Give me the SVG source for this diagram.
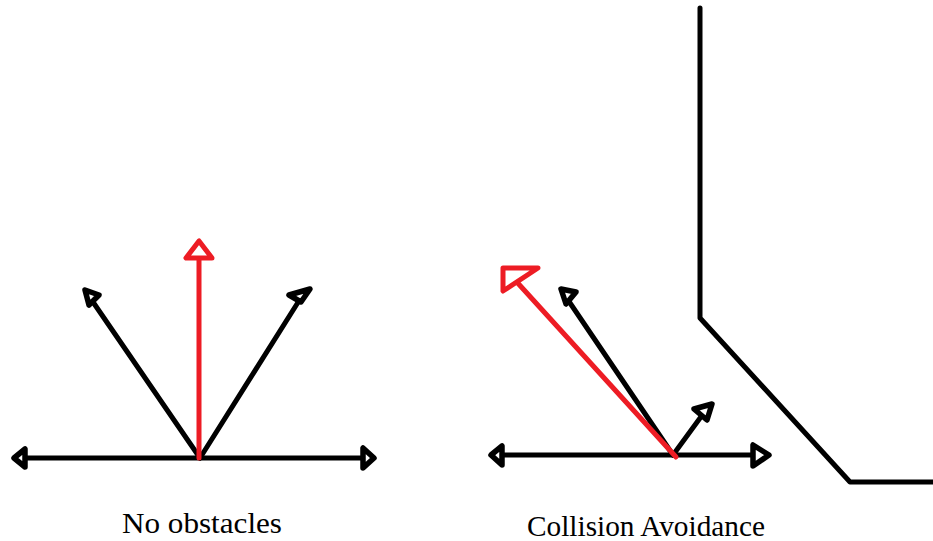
<svg xmlns="http://www.w3.org/2000/svg" width="933" height="541" viewBox="0 0 933 541">
<style>
.k{stroke:#000;stroke-width:5;fill:none;stroke-linecap:round;stroke-linejoin:round}
.r{stroke:#ed1c24;stroke-width:5;fill:none;stroke-linecap:round;stroke-linejoin:round}
.hk{stroke:#000;stroke-width:5.5;fill:#fff;stroke-linejoin:round}
.hr{stroke:#ed1c24;stroke-width:5;fill:#fff;stroke-linejoin:round}
.lbl{font-family:"Liberation Serif","Times New Roman",serif;font-size:30px;fill:#000;text-anchor:middle}
</style>
<rect width="933" height="541" fill="#fff"/>
<g id="connectors">
  <g id="left-diagram">
    <line class="k" x1="22" y1="458" x2="366" y2="458"/>
    <polygon class="hk" points="14,458 25,449 25,467"/>
    <polygon class="hk" points="374,458 363,448 363,468"/>
    <line class="k" x1="200" y1="458" x2="93" y2="302"/>
    <polygon class="hk" points="85,290 99,295 89,305"/>
    <line class="k" x1="200" y1="458" x2="302" y2="296"/>
    <polygon class="hk" points="310,289 301,302 289,295"/>
    <line class="r" x1="199" y1="458" x2="199" y2="258"/>
    <polygon class="hr" points="199,241 186,258 212,258"/>
  </g>
  <g id="right-diagram">
    <line class="k" x1="496" y1="455" x2="762" y2="455"/>
    <polygon class="hk" points="491,455 502,446 502,465"/>
    <polygon class="hk" points="769,455 753,445 753,466"/>
    <line class="k" x1="673" y1="455" x2="568" y2="300"/>
    <polygon class="hk" points="561,289 576,292 566,304"/>
    <line class="k" x1="673" y1="455" x2="703" y2="414"/>
    <polygon class="hk" points="712,404 694,409 707,420"/>
    <line class="r" x1="676" y1="457" x2="515" y2="280"/>
    <polygon class="hr" points="503,268 538,268 503,291"/>
  </g>
</g>
<g id="wall">
  <polyline class="k" stroke-linecap="butt" points="700,8 700,318 850,482 933,482"/>
</g>
<g id="label-no-obstacles"><text class="lbl" x="202" y="533" textLength="160" lengthAdjust="spacingAndGlyphs">No obstacles</text></g>
<g id="label-collision"><text class="lbl" x="646" y="536" textLength="238" lengthAdjust="spacingAndGlyphs">Collision Avoidance</text></g>
</svg>
